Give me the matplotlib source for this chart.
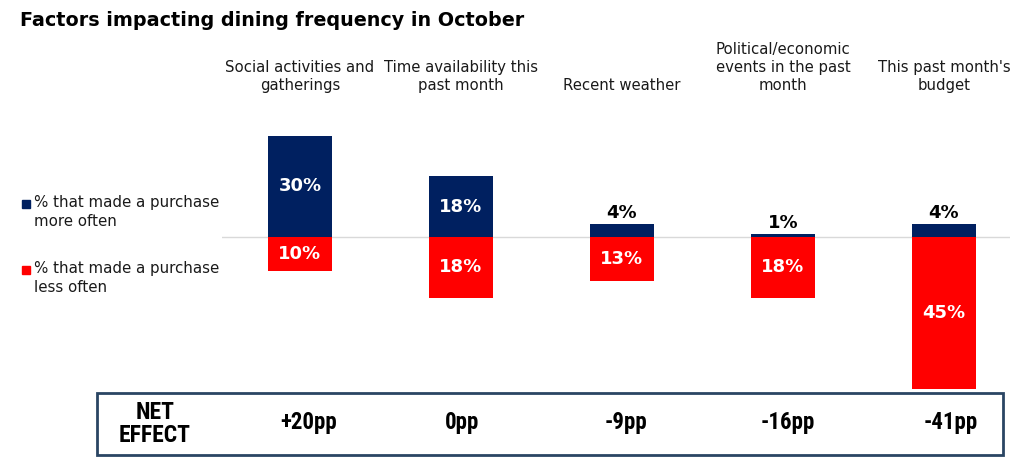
import matplotlib
matplotlib.use("Agg")
import matplotlib.pyplot as plt
from matplotlib.patches import Rectangle
from matplotlib import font_manager

categories = ["Social activities and\ngatherings", "Time availability this\npast month",
              "Recent weather", "Political/economic\nevents in the past\nmonth",
              "This past month's\nbudget"]
more_often = [30, 18, 4, 1, 4]
less_often = [10, 18, 13, 18, 45]
net_effect = ["+20pp", "0pp", "-9pp", "-16pp", "-41pp"]
legend_labels = ["% that made a purchase\nmore often", "% that made a purchase\nless often"]

NAVY = "#002060"
RED = "#FF0000"
W, H = 1024, 463

available = {f.name for f in font_manager.fontManager.ttflist}
narrow_family = "DejaVu Sans"
narrow_stretch = "normal"
for cand in ["Liberation Sans Narrow", "Roboto Condensed", "Open Sans Condensed", "DejaVu Sans Condensed"]:
    if cand in available:
        narrow_family = cand
        break
else:
    narrow_stretch = "condensed"

fig = plt.figure(figsize=(W / 100, H / 100), dpi=100)

def fx(px):
    return px / W

def fy(py):
    return 1 - py / H

ax = fig.add_axes([fx(222), fy(392), fx(1010) - fx(222), fy(110) - fy(392)])
x = list(range(len(categories)))
ax.bar(x, more_often, width=0.4, color=NAVY, zorder=2)
ax.bar(x, [-v for v in less_often], width=0.4, color=RED, zorder=2)
ax.axhline(0, color="#D9D9D9", lw=1, zorder=1)
ax.set_xlim(-0.484, 4.41)
ax.set_ylim(-46, 37.7)
ax.axis("off")

vfont = dict(fontsize=13, fontweight="bold", family="DejaVu Sans")
for i, v in enumerate(more_often):
    if v >= 8:
        ax.text(i, v / 2, f"{v}%", ha="center", va="center", color="white", **vfont)
    else:
        ax.text(i, v + 0.5, f"{v}%", ha="center", va="bottom", color="black", **vfont)
for i, v in enumerate(less_often):
    ax.text(i, -v / 2, f"{v}%", ha="center", va="center", color="white", **vfont)

for i, c in enumerate(categories):
    xf = fx(300 + 161 * i)
    fig.text(xf, fy(93), c, ha="center", va="bottom", fontsize=10.7, family="DejaVu Sans",
             color="#1a1a1a", linespacing=1.25)

fig.text(fx(20), fy(21), "Factors impacting dining frequency in October", ha="left", va="center",
         fontsize=13.8, fontweight="bold", family="DejaVu Sans", color="black")

for lab, col, ytop in zip(legend_labels, [NAVY, RED], [204, 270]):
    fig.patches.append(Rectangle((fx(22), fy(ytop + 4)), fx(8), fy(0) - fy(8), transform=fig.transFigure,
                                 color=col))
    fig.text(fx(34), fy(ytop + 8), lab, ha="left", va="center", fontsize=10.8, family="DejaVu Sans",
             color="#1a1a1a", linespacing=1.25)

fig.patches.append(Rectangle((fx(97), fy(455)), fx(1003) - fx(97), fy(393) - fy(455),
                             transform=fig.transFigure, fill=False, edgecolor="#2A4563", lw=2))
fig.text(fx(155), fy(424), "NET\nEFFECT", ha="center", va="center", color="black",
         linespacing=1.05, fontsize=17, fontweight="bold", family=narrow_family, fontstretch=narrow_stretch)
offsets = [9, 1, 4, 5, 7]
for i, t in enumerate(net_effect):
    fig.text(fx(300 + 161 * i + offsets[i]), fy(423), t, ha="center", va="center", color="black",
             fontsize=16.5, fontweight="bold", family=narrow_family, fontstretch=narrow_stretch)

fig.savefig("out.png", dpi=100)
